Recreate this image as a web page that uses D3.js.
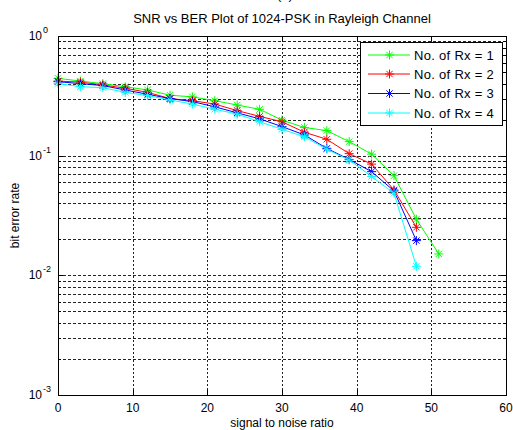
<!DOCTYPE html>
<html>
<head>
<meta charset="utf-8">
<script src="https://cdn.jsdelivr.net/npm/d3@7"></script>
<style>
  body { margin: 0; background: #fff; }
  svg { display: block; font-family: "Liberation Sans", Arial, sans-serif; }
</style>
</head>
<body>
<div id="chart"></div>
<script>
// ---- data ----
const snrLong = [0, 3, 6, 9, 12, 15, 18, 21, 24, 27, 30, 33, 36, 39, 42, 45, 48, 51];
const snrShort = [0, 3, 6, 9, 12, 15, 18, 21, 24, 27, 30, 33, 36, 39, 42, 45, 48];

const berRx1 = [0.443, 0.42, 0.40, 0.377, 0.354, 0.32, 0.31, 0.288, 0.265, 0.244, 0.198, 0.172, 0.162, 0.131, 0.103, 0.068, 0.0294, 0.0151];
const berRx2 = [0.42, 0.412, 0.39, 0.366, 0.338, 0.30, 0.288, 0.27, 0.238, 0.213, 0.192, 0.157, 0.137, 0.104, 0.085, 0.0517, 0.0252];
const berRx3 = [0.415, 0.40, 0.385, 0.354, 0.326, 0.30, 0.283, 0.256, 0.228, 0.203, 0.175, 0.149, 0.115, 0.093, 0.0735, 0.0507, 0.0195];
const berRx4 = [0.40, 0.377, 0.37, 0.338, 0.318, 0.292, 0.27, 0.244, 0.223, 0.192, 0.166, 0.144, 0.113, 0.092, 0.067, 0.0485, 0.0119];

const seriesNames = ["No. of Rx = 1", "No. of Rx = 2", "No. of Rx = 3", "No. of Rx = 4"];
const seriesColors = ["#00ff00", "#ff0000", "#0000ff", "#00ffff"];
const xTicks = [0, 10, 20, 30, 40, 50, 60];
const yDecades = [1e-3, 1e-2, 1e-1, 1];
const yDecadeExp = ["-3", "-2", "-1", "0"];

const series = [
  { x: snrLong, y: berRx1 },
  { x: snrShort, y: berRx2 },
  { x: snrShort, y: berRx3 },
  { x: snrShort, y: berRx4 }
];

(function () {
  // ---- layout ----
  const W = 513, H = 430;
  const pl = 58, pr = 506, pt = 36, pb = 395;

  const svg = d3.select("#chart").append("svg")
    .attr("width", W).attr("height", H);

  const x = d3.scaleLinear().domain([0, 60]).range([pl, pr]);
  const y = d3.scaleLog().domain([1e-3, 1]).range([pb, pt]);

  // minor log values 2..9 per decade
  const yMinor = [];
  for (let d = 0; d < 3; d++) {
    for (let k = 2; k <= 9; k++) yMinor.push(k * yDecades[d]);
  }

  // ---- grid ----
  const grid = svg.append("g").attr("stroke", "#222").attr("stroke-width", 1);
  grid.selectAll("line.h")
    .data(yMinor.concat(yDecades.slice(1, 3)))
    .join("line")
    .attr("x1", pl).attr("x2", pr)
    .attr("y1", d => Math.round(y(d)) + 0.5).attr("y2", d => Math.round(y(d)) + 0.5)
    .attr("stroke-dasharray", "3,2");
  grid.selectAll("line.v")
    .data(xTicks.slice(1, -1))
    .join("line")
    .attr("x1", d => Math.round(x(d)) + 0.5).attr("x2", d => Math.round(x(d)) + 0.5)
    .attr("y1", pt).attr("y2", pb)
    .attr("stroke-dasharray", "2,2");

  // ---- series ----
  const line = d3.line().x(d => x(d[0])).y(d => y(d[1]));
  const star = (s) => `M${-s},0H${s}M0,${-s}V${s}M${-s * 0.7},${-s * 0.7}L${s * 0.7},${s * 0.7}M${-s * 0.7},${s * 0.7}L${s * 0.7},${-s * 0.7}`;

  series.forEach((s, i) => {
    const pts = s.x.map((v, j) => [v, s.y[j]]);
    const g = svg.append("g");
    g.append("path")
      .attr("d", line(pts))
      .attr("fill", "none")
      .attr("stroke", seriesColors[i])
      .attr("stroke-width", 1);
    g.selectAll("path.m")
      .data(pts)
      .join("path")
      .attr("d", star(4.5))
      .attr("transform", d => `translate(${x(d[0])},${y(d[1])})`)
      .attr("fill", "none")
      .attr("stroke", seriesColors[i])
      .attr("stroke-width", 1);
  });

  // ---- axes box and ticks ----
  const ax = svg.append("g").attr("stroke", "#000").attr("stroke-width", 1);
  ax.append("rect")
    .attr("x", pl + 0.5).attr("y", pt + 0.5)
    .attr("width", pr - pl).attr("height", pb - pt)
    .attr("fill", "none");

  xTicks.forEach(t => {
    const px = Math.round(x(t)) + 0.5;
    ax.append("line").attr("x1", px).attr("x2", px).attr("y1", pb).attr("y2", pb - 5);
    ax.append("line").attr("x1", px).attr("x2", px).attr("y1", pt).attr("y2", pt + 5);
  });
  yDecades.forEach(t => {
    const py = Math.round(y(t)) + 0.5;
    ax.append("line").attr("x1", pl).attr("x2", pl + 5).attr("y1", py).attr("y2", py);
    ax.append("line").attr("x1", pr).attr("x2", pr - 5).attr("y1", py).attr("y2", py);
  });
  yMinor.forEach(t => {
    const py = Math.round(y(t)) + 0.5;
    ax.append("line").attr("x1", pl).attr("x2", pl + 3).attr("y1", py).attr("y2", py);
    ax.append("line").attr("x1", pr).attr("x2", pr - 3).attr("y1", py).attr("y2", py);
  });

  // tick labels
  svg.append("g")
    .selectAll("text")
    .data(xTicks)
    .join("text")
    .attr("x", d => x(d))
    .attr("y", pb + 17)
    .attr("text-anchor", "middle")
    .attr("font-size", 12)
    .text(d => d);

  svg.append("g")
    .selectAll("text")
    .data(yDecades)
    .join("text")
    .attr("x", pl - 16)
    .attr("y", d => y(d) + 4)
    .attr("text-anchor", "end")
    .attr("font-size", 12)
    .text("10");
  svg.append("g")
    .selectAll("text")
    .data(yDecades)
    .join("text")
    .attr("x", pl - 15)
    .attr("y", d => y(d) - 3)
    .attr("font-size", 9)
    .text((d, i) => yDecadeExp[i]);

  // axis titles
  svg.append("text")
    .attr("x", (pl + pr) / 2).attr("y", 427)
    .attr("text-anchor", "middle").attr("font-size", 12)
    .text("signal to noise ratio");
  svg.append("text")
    .attr("transform", `translate(19,${(pt + pb) / 2}) rotate(-90)`)
    .attr("text-anchor", "middle").attr("font-size", 12)
    .text("bit error rate");

  svg.append("text")
    .attr("x", (pl + pr) / 2).attr("y", 23)
    .attr("text-anchor", "middle").attr("font-size", 13)
    .text("SNR vs BER Plot of 1024-PSK in Rayleigh Channel");
  // panel label, clipped at the top edge as in the source figure
  svg.append("text")
    .attr("x", 285).attr("y", -1)
    .attr("text-anchor", "middle").attr("font-size", 13)
    .text("(a)");

  // ---- legend ----
  const lg = svg.append("g");
  lg.append("rect")
    .attr("x", 360.5).attr("y", 42.5)
    .attr("width", 142).attr("height", 83)
    .attr("fill", "#fff").attr("stroke", "#000");
  const rowY = [55, 74, 93.5, 113];
  seriesNames.forEach((name, i) => {
    lg.append("line")
      .attr("x1", 368).attr("x2", 410)
      .attr("y1", rowY[i]).attr("y2", rowY[i])
      .attr("stroke", seriesColors[i]);
    lg.append("path")
      .attr("d", star(4.5))
      .attr("transform", `translate(389.5,${rowY[i]})`)
      .attr("fill", "none").attr("stroke", seriesColors[i]);
    lg.append("text")
      .attr("x", 414).attr("y", rowY[i] + 4.5)
      .attr("font-size", 13)
      .attr("letter-spacing", 0.3)
      .text(name);
  });
})();
</script>
</body>
</html>
